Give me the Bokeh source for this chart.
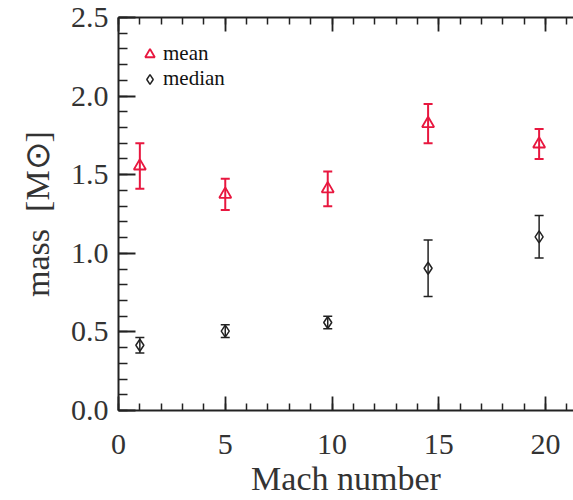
from bokeh.plotting import figure
from bokeh.models import (ColumnDataSource, Whisker, TeeHead, LinearAxis,
                          SingleIntervalTicker, Legend, LegendItem, Range1d,
                          NumeralTickFormatter, CustomJSTickFormatter)
from bokeh.embed import file_html
from bokeh.resources import INLINE

# ---- data ----
mach = [1.0, 5.0, 9.8, 14.5, 19.7]
mean_mass = [1.555, 1.375, 1.41, 1.825, 1.695]
mean_err = [0.145, 0.10, 0.11, 0.125, 0.095]
median_mass = [0.415, 0.505, 0.56, 0.905, 1.105]
median_err = [0.05, 0.04, 0.04, 0.18, 0.135]

RED = "#e8173f"
INK = "#222222"
FONT = "Liberation Serif"

src_mean = ColumnDataSource(dict(
    x=mach, y=mean_mass,
    lo=[m - e for m, e in zip(mean_mass, mean_err)],
    hi=[m + e for m, e in zip(mean_mass, mean_err)]))
src_med = ColumnDataSource(dict(
    x=mach, y=median_mass,
    lo=[m - e for m, e in zip(median_mass, median_err)],
    hi=[m + e for m, e in zip(median_mass, median_err)]))

p = figure(width=573, height=500, output_backend="svg", toolbar_location=None,
           x_range=Range1d(0, 21.31), y_range=Range1d(0, 2.5),
           min_border_left=118, min_border_right=0, min_border_top=17,
           min_border_bottom=90, x_axis_label="Mach number",
           y_axis_label="mass\u00a0\u00a0[M\u2299]")
p.outline_line_color = None
p.grid.visible = False
p.background_fill_color = "white"
p.border_fill_color = "white"

# error bars
w1 = Whisker(source=src_mean, base="x", upper="hi", lower="lo",
             line_color=RED, line_width=2,
             upper_head=TeeHead(size=9, line_color=RED, line_width=2),
             lower_head=TeeHead(size=9, line_color=RED, line_width=2))
w2 = Whisker(source=src_med, base="x", upper="hi", lower="lo",
             line_color=INK, line_width=1.5,
             upper_head=TeeHead(size=9, line_color=INK, line_width=1.5),
             lower_head=TeeHead(size=9, line_color=INK, line_width=1.5))
p.add_layout(w1)
p.add_layout(w2)

r_mean = p.scatter("x", "y", source=src_mean, marker="triangle", size=12,
                   fill_color=None, line_color=RED, line_width=1.8)
r_med = p.scatter("x", "y", source=src_med, marker="diamond", size=12,
                  fill_color=None, line_color=INK, line_width=1.5)

# axes styling
p.xaxis.ticker = SingleIntervalTicker(interval=5, num_minor_ticks=5)
p.yaxis.ticker = SingleIntervalTicker(interval=0.5, num_minor_ticks=5)
p.yaxis.formatter = NumeralTickFormatter(format="0.0")

for ax in p.xaxis:
    ax.major_tick_in = 14
    ax.major_tick_out = 0
    ax.minor_tick_in = 7
    ax.minor_tick_out = 0
    ax.major_label_standoff = 24
    ax.axis_label_standoff = 3

for ax in p.yaxis:
    ax.major_tick_in = 17
    ax.major_tick_out = 0
    ax.minor_tick_in = 9
    ax.minor_tick_out = 0
    ax.major_label_standoff = 10
    ax.axis_label_standoff = 12

for ax in list(p.xaxis) + list(p.yaxis):
    ax.axis_line_color = INK
    ax.axis_line_width = 2
    ax.major_tick_line_color = INK
    ax.major_tick_line_width = 1.8
    ax.minor_tick_line_color = INK
    ax.minor_tick_line_width = 1.5
    ax.major_label_text_font = FONT
    ax.major_label_text_font_size = "30px"
    ax.major_label_text_color = "#333333"
    ax.axis_label_text_font = FONT
    ax.axis_label_text_font_size = "34px"
    ax.axis_label_text_font_style = "normal"
    ax.axis_label_text_color = "#333333"

top = LinearAxis(ticker=SingleIntervalTicker(interval=5, num_minor_ticks=5),
                 formatter=CustomJSTickFormatter(code="return ''"),
                 major_label_standoff=0,
                 major_tick_in=14, major_tick_out=0,
                 minor_tick_in=7, minor_tick_out=0,
                 axis_line_color=INK, axis_line_width=2,
                 major_tick_line_color=INK, major_tick_line_width=1.8,
                 minor_tick_line_color=INK, minor_tick_line_width=1.5)
p.add_layout(top, "above")

legend = Legend(items=[LegendItem(label="mean", renderers=[r_mean]),
                       LegendItem(label="median", renderers=[r_med])],
                location=(18, 319), border_line_color=None,
                background_fill_alpha=0, padding=0, spacing=0,
                glyph_width=27, glyph_height=24, label_height=24,
                label_standoff=0, label_text_font=FONT,
                label_text_font_size="21px", label_text_color="#111111")
p.add_layout(legend, "center")

open("out.html", "w").write(file_html(p, INLINE))
